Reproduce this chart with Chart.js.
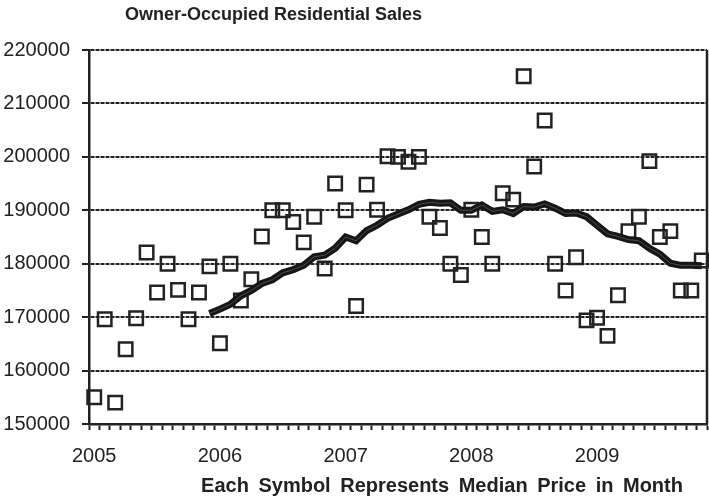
<!DOCTYPE html>
<html>
<head>
<meta charset="utf-8">
<script src="https://cdn.jsdelivr.net/npm/chart.js@4.4.1/dist/chart.umd.min.js"></script>
<style>
  html, body { margin: 0; padding: 0; background: #fff; overflow: hidden; }
  canvas { display: block; }
</style>
</head>
<body>
<canvas id="myChart" width="709" height="499"></canvas>
<script>
// months Jan 2005 .. Nov 2009
var months = [
  "2005-01","2005-02","2005-03","2005-04","2005-05","2005-06","2005-07","2005-08","2005-09","2005-10","2005-11","2005-12",
  "2006-01","2006-02","2006-03","2006-04","2006-05","2006-06","2006-07","2006-08","2006-09","2006-10","2006-11","2006-12",
  "2007-01","2007-02","2007-03","2007-04","2007-05","2007-06","2007-07","2007-08","2007-09","2007-10","2007-11","2007-12",
  "2008-01","2008-02","2008-03","2008-04","2008-05","2008-06","2008-07","2008-08","2008-09","2008-10","2008-11","2008-12",
  "2009-01","2009-02","2009-03","2009-04","2009-05","2009-06","2009-07","2009-08","2009-09","2009-10","2009-11"
];

// median price in month (squares)
var medianPrice = [
  155000, 169600, 154000, 164000, 169800, 182100, 174600, 180000, 175100, 169600, 174600, 179500,
  165100, 180000, 173100, 177100, 185100, 190000, 190000, 187800, 184000, 188800, 179100, 195000,
  190000, 172100, 194800, 190100, 200100, 200000, 199100, 200000, 188800, 186700, 180000, 177900,
  190100, 185000, 180000, 193200, 192000, 215100, 198200, 206800, 180000, 175000, 181200, 169400,
  169900, 166500, 174100, 186100, 188800, 199200, 185000, 186100, 175000, 175000, 180600
];

// 12-month trend line (thick)
var trend = [
  null, null, null, null, null, null, null, null, null, null, null, 170700,
  171500, 172400, 174000, 175000, 176300, 177000, 178300, 178900, 179700, 181300, 181600, 182900,
  185000, 184300, 186200, 187200, 188500, 189300, 190100, 191100, 191500, 191300, 191400, 190000,
  190000, 191000, 189800, 190100, 189400, 190700, 190600, 191200, 190400, 189400, 189500, 188800,
  187200, 185600, 185100, 184500, 184300, 182900, 181800, 180100, 179700, 179700, 179600
];

var yTicks = [150000, 160000, 170000, 180000, 190000, 200000, 210000, 220000];
var chartTitle = "Owner-Occupied Residential Sales";
var axisTitle = "Each Symbol Represents Median Price in Month";

var ink = '#222';
var fontFamily = '"Liberation Sans", Arial, sans-serif';

var extras = {
  id: 'extras',
  afterDraw: function(chart) {
    var ctx = chart.ctx;
    var a = chart.chartArea;
    ctx.save();
    // right border of plot area
    ctx.strokeStyle = ink;
    ctx.lineWidth = 2.5;
    ctx.beginPath();
    ctx.moveTo(a.right, a.top);
    ctx.lineTo(a.right, a.bottom);
    ctx.stroke();
    // titles
    ctx.fillStyle = ink;
    ctx.textBaseline = 'alphabetic';
    ctx.font = 'bold 18px ' + fontFamily;
    ctx.textAlign = 'left';
    ctx.fillText(chartTitle, 125, 20);
    ctx.font = 'bold 20px ' + fontFamily;
    ctx.wordSpacing = '4px';
    ctx.textAlign = 'center';
    ctx.fillText(axisTitle, 442, 492);
    ctx.restore();
  }
};

var ctx = document.getElementById('myChart').getContext('2d');
var myChart = new Chart(ctx, {
  type: 'line',
  data: {
    labels: months,
    datasets: [
      {
        data: trend,
        borderColor: '#161616',
        borderWidth: 7,
        pointRadius: 0,
        tension: 0,
        order: 2
      },
      {
        data: trend,
        borderColor: '#4a4a4a',
        borderWidth: 1,
        pointRadius: 0,
        tension: 0,
        order: 1
      },
      {
        data: medianPrice,
        showLine: false,
        pointStyle: 'rect',
        pointRadius: 9.5,
        pointBorderWidth: 2.5,
        pointBorderColor: ink,
        pointBackgroundColor: 'rgba(0,0,0,0)',
        order: 3
      }
    ]
  },
  options: {
    responsive: false,
    animation: false,
    layout: { autoPadding: false, padding: { top: 50, right: 2, bottom: 0, left: 0 } },
    plugins: {
      legend: { display: false },
      tooltip: { enabled: false },
      title: { display: false }
    },
    scales: {
      x: {
        type: 'category',
        offset: true,
        grid: {
          offset: true,
          drawOnChartArea: false,
          drawTicks: true,
          tickLength: 6,
          tickColor: ink,
          tickWidth: 2
        },
        border: { display: true, color: ink, width: 2.5 },
        ticks: {
          autoSkip: false,
          maxRotation: 0,
          padding: 14,
          color: ink,
          font: { family: fontFamily, size: 20 },
          callback: function(v, i) {
            var m = months[i];
            return m.slice(5) === '01' ? m.slice(0, 4) : '';
          }
        },
        afterFit: function(scale) {
          scale.height = 75;
          scale.paddingLeft = 0;
          scale.paddingRight = 0;
        }
      },
      y: {
        min: 150000,
        max: 220000,
        afterBuildTicks: function(scale) {
          scale.ticks = yTicks.map(function(v) { return { value: v }; });
        },
        grid: {
          color: ink,
          lineWidth: 2,
          tickLength: 7,
          tickColor: ink,
          tickWidth: 2,
          tickBorderDash: []
        },
        border: { display: true, color: ink, width: 2.5, dash: [4, 1] },
        ticks: {
          padding: 12,
          color: ink,
          font: { family: fontFamily, size: 20 },
          callback: function(v) { return String(v); }
        },
        afterFit: function(scale) { scale.width = 89; }
      }
    }
  },
  plugins: [extras]
});
</script>
</body>
</html>
